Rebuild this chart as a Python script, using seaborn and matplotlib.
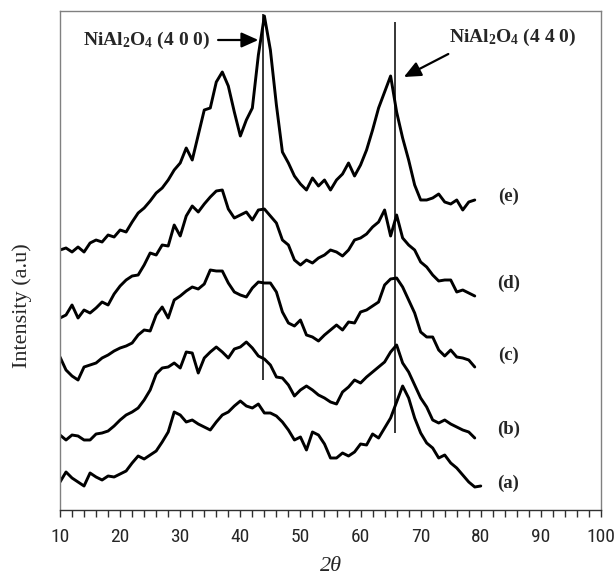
import matplotlib
matplotlib.use("Agg")
import matplotlib.pyplot as plt
from matplotlib.ticker import MultipleLocator
import seaborn as sns

# 2-theta scan positions (degrees)
two_theta = list(range(10, 81))

# XRD intensities (a.u., offset stacks) for samples (a)-(e)
int_a = [28, 38, 32, 28, 24, 37, 33, 30, 34, 33,
         36, 39, 47, 54, 51, 55, 59, 68, 78, 98,
         95, 88, 90, 86, 83, 80, 88, 95, 98, 104,
         109, 104, 102, 106, 97, 97, 94, 88, 80, 70,
         73, 60, 78, 75, 66, 52, 52, 57, 54, 58,
         66, 65, 76, 72, 82, 92, 108, 124, 112, 92,
         77, 67, 62, 52, 55, 47, 42, 35, 28, 23,
         24]
int_b = [75, 70, 75, 74, 70, 70, 76, 77, 79, 84,
         90, 95, 98, 102, 110, 120, 136, 142, 143, 147,
         142, 158, 157, 137, 152, 158, 163, 158, 152, 161,
         163, 168, 162, 154, 151, 145, 133, 132, 125, 114,
         120, 124, 120, 115, 112, 108, 106, 118, 123, 130,
         127, 133, 138, 143, 148, 158, 165, 147, 138, 125,
         112, 103, 90, 87, 90, 86, 83, 80, 78, 72]
int_c = [153, 140, 134, 130, 143, 145, 147, 152, 155, 159,
         162, 164, 167, 175, 180, 179, 195, 203, 192, 210,
         214, 219, 223, 221, 226, 240, 239, 239, 227, 218,
         215, 213, 222, 228, 227, 227, 218, 198, 187, 184,
         190, 175, 173, 169, 175, 180, 185, 180, 188, 187,
         198, 200, 204, 208, 225, 231, 232, 223, 210, 197,
         178, 173, 173, 160, 154, 160, 153, 152, 150, 143]
int_d = [192, 195, 205, 192, 200, 197, 202, 208, 205, 216,
         224, 230, 234, 235, 245, 257, 255, 265, 264, 285,
         274, 294, 304, 298, 306, 313, 319, 320, 301, 292,
         295, 298, 290, 300, 301, 294, 287, 270, 265, 250,
         245, 250, 247, 252, 255, 260, 258, 254, 260, 270,
         272, 276, 283, 288, 300, 274, 295, 272, 265, 260,
         248, 243, 235, 229, 230, 230, 218, 220, 217, 214]
int_e = [260, 262, 258, 263, 258, 267, 270, 268, 275, 273,
         280, 278, 288, 297, 302, 309, 317, 322, 330, 340,
         347, 362, 350, 375, 400, 402, 428, 438, 424, 398,
         374, 390, 402, 455, 494, 460, 405, 358, 347, 334,
         326, 320, 332, 324, 330, 320, 330, 336, 347, 334,
         345, 360, 380, 402, 418, 434, 398, 372, 350, 325,
         310, 310, 312, 316, 308, 306, 310, 300, 308, 310]

sample_labels = ["(a)", "(b)", "(c)", "(d)", "(e)"]
label_levels = [27, 81, 155, 227, 314]

# NiAl2O4 reflections: position, and vertical extent of the marker lines
peak_pos = [43.83, 65.67]
peak_line_low = [130, 77]
peak_line_high = [496, 488]
peak_names = [r"NiAl$_\mathbf{2}$O$_\mathbf{4}$ (4 0 0)",
              r"NiAl$_\mathbf{2}$O$_\mathbf{4}$ (4 4 0)"]

sns.set_style("white")
plt.rcParams["font.family"] = ["Liberation Serif", "DejaVu Sans"]
plt.rcParams["mathtext.fontset"] = "custom"
plt.rcParams["mathtext.rm"] = "Liberation Serif:bold"
plt.rcParams["mathtext.bf"] = "Liberation Serif:bold"
plt.rcParams["mathtext.it"] = "Liberation Serif:italic"

fig = plt.figure(figsize=(6.15, 5.81), dpi=100)
ax = fig.add_axes([60 / 615, 1 - 510 / 581, 541 / 615, 499 / 581])

for vals in [int_a, int_b, int_c, int_d, int_e]:
    sns.lineplot(x=two_theta[:len(vals)], y=vals, ax=ax, color="black",
                 linewidth=2.1, legend=False)

ax.vlines(peak_pos, peak_line_low, peak_line_high, color="black", linewidth=1.1)

for lab, lev in zip(sample_labels, label_levels):
    ax.text(84.6, lev, lab, ha="center", va="center", fontsize=13.5,
            fontweight="bold", family="Liberation Serif")

# peak labels with pointer arrows
ax.text(13.8, 470, peak_names[0], ha="left", va="center", fontsize=14,
        fontweight="bold")
ax.text(74.7, 473, peak_names[1], ha="left", va="center", fontsize=14,
        fontweight="bold")
arrow_kw = dict(arrowstyle="-|>,head_length=0.85,head_width=0.38",
                color="black", lw=1.6, mutation_scale=12, shrinkA=0, shrinkB=0)
ax.annotate("", xy=(43.0, 470), xytext=(36.3, 470), arrowprops=arrow_kw)
ax.annotate("", xy=(67.2, 433), xytext=(74.6, 456), arrowprops=arrow_kw)

ax.set_xlim(10, 100)
ax.set_ylim(0, 499)
ax.xaxis.set_major_locator(MultipleLocator(10))
ax.xaxis.set_minor_locator(MultipleLocator(2))
ax.set_yticks([])
ax.tick_params(axis="x", which="both", direction="out", length=5, width=1,
               color="#303030", bottom=True, top=False, labelsize=14, pad=8,
               labelfontfamily=["Liberation Sans Narrow", "Arial Narrow",
                                "Roboto Condensed", "Liberation Sans"])

for side in ["left", "top", "right"]:
    ax.spines[side].set_color("#808080")
    ax.spines[side].set_linewidth(1.0)
ax.spines["bottom"].set_color("#303030")
ax.spines["bottom"].set_linewidth(1.0)

ax.set_ylabel("Intensity (a.u)", fontsize=16, family="Liberation Serif")
ax.yaxis.set_label_coords(-0.052, 0.41)
ax.set_xlabel("2θ", fontsize=16, fontstyle="italic", family="Liberation Serif")
ax.xaxis.set_label_coords(0.5, -0.095)

fig.savefig("out.png", dpi=100)
